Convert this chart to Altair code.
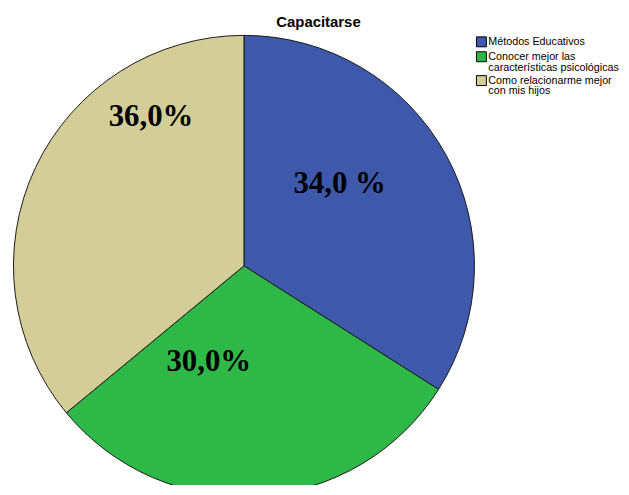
import altair as alt
import pandas as pd

categories = [
    "Métodos Educativos",
    "Conocer mejor las características psicológicas",
    "Como relacionarme mejor con mis hijos",
]
legend_lines = [
    ["Métodos Educativos"],
    ["Conocer mejor las", "características psicológicas"],
    ["Como relacionarme mejor", "con mis hijos"],
]
values = [34.0, 30.0, 36.0]
labels = ["34,0 %", "30,0%", "36,0%"]
colors = ["#3E58AC", "#2EB848", "#D3CE97"]

df = pd.DataFrame({
    "idx": list(range(len(categories))),
    "cat": categories,
    "value": values,
    "label": labels,
})

# legend label expression: split long names over two lines
expr = "datum.label"
for cat, lines in zip(categories, legend_lines):
    arr = "[" + ", ".join("'" + l + "'" for l in lines) + "]"
    expr = f"datum.label == '{cat}' ? {arr} : ({expr})"

base = alt.Chart(df).encode(
    theta=alt.Theta("value:Q", stack=True),
    order=alt.Order("idx:Q"),
)

arcs = base.mark_arc(radius=232, stroke="#1a1a1a", strokeWidth=1).encode(
    color=alt.Color(
        "cat:N",
        scale=alt.Scale(domain=categories, range=colors),
        sort=categories,
        legend=alt.Legend(
            title=None,
            orient="none",
            legendX=471,
            legendY=-12,
            symbolType="square",
            symbolSize=100,
            symbolStrokeColor="black",
            symbolStrokeWidth=1,
            symbolOpacity=1,
            labelFont="Liberation Sans",
            labelFontSize=10.8,
            labelColor="black",
            labelOffset=1.5,
            labelLimit=300,
            gridAlign="none",
            rowPadding=0,
            padding=0,
            labelExpr=expr,
        ),
    )
)

# label placement (radius, angular offset in radians) per slice
label_radius = [127, 103, 177]
label_theta_offset = [-0.208, 0.414, 0.574]

layers = [arcs]
for i in range(len(categories)):
    layers.append(
        base.mark_text(
            radius=label_radius[i],
            thetaOffset=label_theta_offset[i],
            font="Liberation Serif",
            fontWeight="bold",
            fontSize=31,
            color="black",
        ).encode(
            text=alt.condition(f"datum.idx == {i}", "label:N", alt.value(""))
        )
    )

chart = alt.layer(*layers).properties(
    width=475,
    height=438,
    padding={"left": 0, "top": 39, "right": 142, "bottom": 0},
    autosize="none",
    title=alt.Title(
        "Capacitarse",
        font="Liberation Sans",
        fontSize=15,
        fontWeight="bold",
        color="black",
        anchor="middle",
        dx=75,
        dy=1,
    ),
).configure_view(stroke=None).configure(
    style={"guide-label": {"lineHeight": 11}}
)

chart.save("out.html", embed_options={"renderer": "svg", "actions": False})
